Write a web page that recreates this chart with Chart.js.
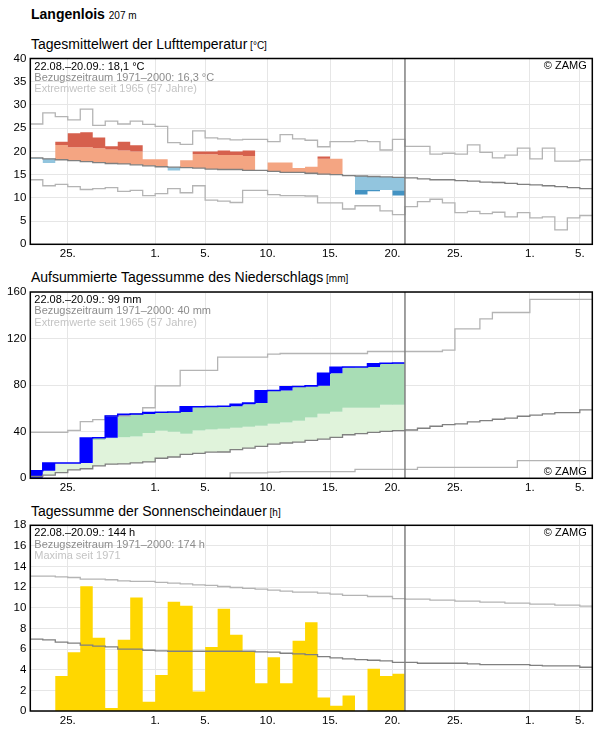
<!DOCTYPE html>
<html>
<head>
<meta charset="utf-8">
<script src="https://cdn.jsdelivr.net/npm/chart.js@4.4.0/dist/chart.umd.min.js"></script>
<style>
  body { margin: 0; background: #fff; font-family: "Liberation Sans", Arial, sans-serif; }
  #page { position: relative; width: 596px; height: 729px; overflow: hidden; }
  .title { position: absolute; left: 31px; font-size: 14px; line-height: 14px; white-space: nowrap; color: #000; }
  .title small { font-size: 10px; }
  canvas { position: absolute; left: 0; }
</style>
</head>
<body>
<div id="page">
  <div class="title" style="top:7px;font-weight:bold">Langenlois <small style="font-weight:normal">207 m</small></div>
  <div class="title" style="top:37px">Tagesmittelwert der Lufttemperatur<small> [°C]</small></div>
  <div class="title" style="top:270px">Aufsummierte Tagessumme des Niederschlags<small> [mm]</small></div>
  <div class="title" style="top:504px">Tagessumme der Sonnenscheindauer<small> [h]</small></div>
  <canvas id="tempChart" style="top:40px" width="596" height="225"></canvas>
  <canvas id="rainChart" style="top:274px" width="596" height="225"></canvas>
  <canvas id="sunChart" style="top:507px" width="596" height="222"></canvas>
</div>
<script>
// days from 22.08. (index 0) to 05.10. (index 44); observations end 20.09. (index 29)
const dayCount = 45;
const obsDays = 30;
const tickDays = [3, 10, 14, 19, 24, 29, 34, 40, 44];
const tickLabels = ['25.', '1.', '5.', '10.', '15.', '20.', '25.', '1.', '5.'];

const tempObs = [18.4, 17.5, 22.1, 23.9, 24.1, 23.0, 21.1, 22.1, 21.3, 18.3, 18.3, 15.9, 18.1, 20.0, 20.0, 20.2, 20.0, 20.2, 15.9, 17.6, 17.6, 16.4, 16.7, 18.9, 18.4, 14.8, 10.7, 11.4, 11.7, 10.5];
const tempUpper = [21.6, 21.5, 21.4, 20.9, 20.9, 20.7, 20.4, 20.2, 20.0, 19.9, 19.8, 19.7, 19.6, 19.4, 19.4, 19.2, 19.2, 19.0, 18.9, 18.8, 18.7, 18.6, 18.5, 18.4, 18.5, 18.2, 18.1, 18.0, 17.9, 17.8];
const tempLower = [15.6, 15.4, 15.2, 15.0, 14.8, 14.6, 14.4, 14.3, 14.1, 13.9, 13.7, 13.6, 13.5, 13.4, 13.2, 13.1, 13.1, 12.9, 12.9, 12.7, 12.5, 12.5, 12.3, 12.1, 12.0, 11.8, 11.7, 11.7, 11.6, 11.6];
const tempMean = [18.6, 18.4, 18.2, 18.0, 17.8, 17.6, 17.4, 17.3, 17.1, 16.9, 16.7, 16.6, 16.5, 16.4, 16.2, 16.1, 16.1, 15.9, 15.9, 15.7, 15.5, 15.5, 15.3, 15.1, 15.0, 14.8, 14.7, 14.6, 14.5, 14.4, 14.3, 14.1, 13.9, 13.9, 13.7, 13.6, 13.4, 13.3, 13.1, 12.9, 12.8, 12.6, 12.4, 12.2, 12.0];
const tempMax = [25.9, 28.3, 27.5, 26.8, 29.1, 25.6, 26.5, 25.9, 26.5, 25.8, 25.4, 21.9, 21.5, 24.4, 22.9, 22.7, 22.5, 22.6, 22.6, 22.1, 23.6, 22.7, 22.4, 21.0, 22.1, 22.1, 22.3, 22.1, 20.3, 22.6, 21.1, 21.1, 19.4, 19.6, 19.4, 21.4, 19.8, 18.6, 19.2, 20.7, 18.4, 20.7, 17.9, 17.9, 18.2];
const tempMin = [13.9, 12.6, 12.9, 12.4, 11.8, 12.0, 12.2, 11.4, 11.6, 10.5, 10.9, 12.0, 11.1, 12.6, 9.5, 9.3, 9.0, 11.6, 11.6, 10.7, 10.5, 10.5, 10.4, 8.9, 8.9, 7.6, 8.3, 8.3, 7.2, 6.4, 8.1, 9.2, 9.7, 8.9, 6.8, 7.1, 6.6, 6.9, 5.9, 6.8, 5.7, 5.9, 3.1, 5.7, 6.2];

const rainCum = [6.5, 13.2, 13.2, 13.2, 34.6, 34.8, 53.6, 55.0, 55.3, 56.6, 56.8, 57.0, 61.4, 61.5, 61.6, 61.8, 63.7, 64.6, 75.1, 75.3, 78.6, 78.8, 79.4, 90.2, 95.4, 95.5, 95.6, 98.4, 98.8, 99.0];
const rainUpper = [9, 12, 17, 22, 28, 33.0, 34.4, 35.2, 35.8, 38.9, 40.8, 40.0, 38.3, 41.1, 42.0, 42.6, 43.4, 44.3, 45.1, 46.9, 48.0, 49.4, 52.3, 55.4, 57.1, 60.6, 60.6, 60.6, 63.1, 63.1];
const rainMean = [1.7, 2.8, 4.8, 7.3, 8.2, 10.7, 12.1, 12.4, 13.2, 14.1, 17.2, 18.3, 20.6, 21.4, 22.5, 22.6, 24.6, 26.0, 27.4, 29.4, 30.3, 31.1, 32.6, 33.7, 35.1, 37.4, 38.3, 39.4, 40.3, 40.9, 41.5, 43.0, 44.7, 46.1, 46.7, 48.4, 49.6, 50.7, 51.6, 53.3, 54.2, 55.3, 56.4, 56.4, 58.7];
const rainMax = [39.4, 39.4, 39.4, 41.1, 48.7, 50.4, 53.5, 53.5, 55.5, 60.6, 79.4, 79.4, 92.7, 92.7, 92.7, 104, 104, 104, 104, 106.6, 107.2, 107.2, 107.2, 107.2, 107.2, 107.2, 107.2, 108.9, 108.9, 108.9, 108.9, 108.9, 108.9, 110.0, 128.4, 128.4, 137, 142.4, 142.4, 142.4, 153.6, 153.6, 153.6, 153.6, 153.6];
const rainMin = [0, 0, 0, 0, 0, 0, 0, 0, 0, 0, 0, 0, 0, 0, 0, 0, 4.6, 4.6, 4.6, 5.3, 5.8, 5.8, 5.8, 5.8, 5.8, 5.8, 7.6, 7.6, 7.6, 7.6, 7.6, 9.4, 9.4, 9.4, 9.4, 9.4, 9.4, 9.4, 9.4, 15.2, 15.2, 15.2, 15.2, 15.2, 15.2];

const sunObs = [0, 0, 3.4, 5.7, 12.1, 7.1, 0.3, 6.9, 11.0, 0.9, 3.5, 10.6, 10.2, 1.9, 6.2, 9.9, 7.4, 5.8, 2.7, 5.2, 2.7, 6.8, 8.6, 1.3, 0.5, 1.5, 0, 4.1, 3.4, 3.6];
const sunMean = [6.96, 6.9, 6.67, 6.57, 6.38, 6.28, 6.21, 5.99, 5.99, 5.89, 5.83, 5.79, 5.79, 5.79, 5.79, 5.79, 5.79, 5.79, 5.73, 5.7, 5.6, 5.53, 5.47, 5.27, 5.15, 5.05, 4.98, 4.92, 4.85, 4.72, 4.72, 4.63, 4.63, 4.63, 4.63, 4.56, 4.5, 4.5, 4.5, 4.5, 4.43, 4.37, 4.37, 4.37, 4.24];
const sunMax = [13.07, 13.07, 13.0, 12.94, 12.78, 12.78, 12.72, 12.62, 12.56, 12.56, 12.46, 12.39, 12.33, 12.23, 12.17, 12.07, 11.97, 11.88, 11.81, 11.72, 11.62, 11.52, 11.52, 11.42, 11.33, 11.2, 11.2, 11.1, 11.1, 10.9, 10.84, 10.84, 10.74, 10.74, 10.65, 10.65, 10.55, 10.55, 10.45, 10.45, 10.36, 10.36, 10.26, 10.26, 10.16];

const fontFamily = '"Liberation Sans", Arial, sans-serif';
Chart.defaults.font.family = fontFamily;
Chart.defaults.color = '#000';

const meanColor = '#808080';
const extremeColor = '#b4b4b4';
const none = 'rgba(0,0,0,0)';

// every day is a step from x=i to x=i+1
function steps(values) {
    const pts = values.map((v, i) => ({ x: i, y: v }));
    pts.push({ x: values.length, y: values[values.length - 1] });
    return pts;
}

// band between this series and dataset number `target`
function band(values, target, color) {
    return { data: steps(values), stepped: true, borderColor: none, borderWidth: 0, pointRadius: 0,
        fill: target === false ? false : { target: target }, backgroundColor: color };
}

function line(values, color, width) {
    return { data: steps(values), stepped: true, borderColor: color, borderWidth: width || 1.3, pointRadius: 0, fill: false };
}

const framePlugin = {
    id: 'frame',
    afterDatasetsDraw(chart, args, opts) {
        const { ctx, chartArea: a, scales: { x } } = chart;
        ctx.save();
        const xEnd = x.getPixelForValue(obsDays);
        ctx.strokeStyle = meanColor;
        ctx.lineWidth = 1.5;
        ctx.beginPath();
        ctx.moveTo(xEnd, a.top);
        ctx.lineTo(xEnd, a.bottom);
        ctx.stroke();

        ctx.font = '11px ' + fontFamily;
        ctx.textBaseline = 'alphabetic';
        ctx.textAlign = 'left';
        const colors = ['#000', '#8c8c8c', '#c4c4c4'];
        opts.lines.forEach((t, i) => {
            ctx.fillStyle = colors[i];
            ctx.fillText(t, a.left + 4, a.top + 11 + i * 11.4);
        });
        ctx.textAlign = 'right';
        ctx.fillStyle = '#000';
        ctx.fillText('© ZAMG', a.right - 5.5, opts.copyBottom ? a.bottom - 3 : a.top + 10.5);

        ctx.strokeStyle = '#000';
        ctx.lineWidth = 1.5;
        ctx.strokeRect(a.left, a.top, a.right - a.left, a.bottom - a.top);
        ctx.restore();
    }
};

function makeChart(id, datasets, y, layout, frame) {
    return new Chart(document.getElementById(id), {
        type: 'line',
        data: { datasets: datasets },
        options: {
            responsive: false,
            animation: false,
            events: [],
            layout: { padding: { top: layout.top, right: 3.7, left: 0, bottom: 0 } },
            plugins: {
                legend: { display: false },
                tooltip: { enabled: false },
                filler: { drawTime: 'beforeDatasetsDraw' },
                frame: frame
            },
            scales: {
                x: {
                    type: 'linear',
                    min: 0,
                    max: dayCount,
                    afterBuildTicks: s => { s.ticks = tickDays.map(v => ({ value: v })); },
                    afterFit: s => { s.height = layout.xHeight; },
                    ticks: {
                        autoSkip: false,
                        maxRotation: 0,
                        padding: 3,
                        font: { size: 11.5 },
                        callback: (v, i) => tickLabels[i]
                    },
                    grid: { color: '#e6e6e6', drawTicks: false },
                    border: { display: false }
                },
                y: {
                    min: y.min,
                    max: y.max,
                    afterFit: s => { s.width = 30.3; },
                    ticks: { stepSize: y.step, padding: 4, font: { size: 11.5 } },
                    grid: { color: '#e6e6e6', drawTicks: false },
                    border: { display: false }
                }
            }
        },
        plugins: [framePlugin]
    });
}

// temperature bands, clipped at the mean and at the upper / lower thresholds
const tempWarm = tempObs.map((v, i) => Math.max(Math.min(v, tempUpper[i]), tempMean[i]));
const tempCool = tempObs.map((v, i) => Math.min(Math.max(v, tempLower[i]), tempMean[i]));
const tempHot = tempObs.map((v, i) => Math.min(v, tempUpper[i]));
const tempCold = tempObs.map((v, i) => Math.max(v, tempLower[i]));

makeChart('tempChart', [
    band(tempObs, 4, '#d6604d'),
    band(tempObs, 5, '#4393c3'),
    band(tempWarm, 6, '#f4a582'),
    band(tempCool, 6, '#92c5de'),
    band(tempHot, false, none),
    band(tempCold, false, none),
    line(tempMean, meanColor),
    line(tempMax, extremeColor),
    line(tempMin, extremeColor)
], { min: 0, max: 40, step: 5 }, { top: 18.5, xHeight: 20.7 }, {
    lines: ['22.08.–20.09.: 18,1 °C', 'Bezugszeitraum 1971–2000: 16,3 °C', 'Extremwerte seit 1965 (57 Jahre)'],
    copyBottom: false
});

// precipitation: blue = rain of the day, greens = surplus over the reference mean
const rainBefore = [0].concat(rainCum.slice(0, -1));
const rainLow = rainBefore.map((v, i) => Math.min(v, rainUpper[i]));
const rainLight = rainLow.map((v, i) => Math.max(v, rainMean[i]));

const rainLine = line(rainCum, '#0000ff', 1.5);
rainLine.fill = { target: 1 };
rainLine.backgroundColor = '#0000ff';

makeChart('rainChart', [
    rainLine,
    band(rainBefore, 2, '#a8ddb5'),
    band(rainLow, false, none),
    band(rainLight, 4, '#e0f3db'),
    line(rainMean, meanColor),
    line(rainMax, extremeColor),
    line(rainMin, extremeColor)
], { min: 0, max: 160, step: 40 }, { top: 18, xHeight: 20.7 }, {
    lines: ['22.08.–20.09.: 99 mm', 'Bezugszeitraum 1971–2000: 40 mm', 'Extremwerte seit 1965 (57 Jahre)'],
    copyBottom: true
});

makeChart('sunChart', [
    band(sunObs, 'origin', '#ffd700'),
    line(sunMean, meanColor),
    line(sunMax, extremeColor)
], { min: 0, max: 18, step: 2 }, { top: 18.3, xHeight: 18 }, {
    lines: ['22.08.–20.09.: 144 h', 'Bezugszeitraum 1971–2000: 174 h', 'Maxima seit 1971'],
    copyBottom: false
});
</script>
</body>
</html>
